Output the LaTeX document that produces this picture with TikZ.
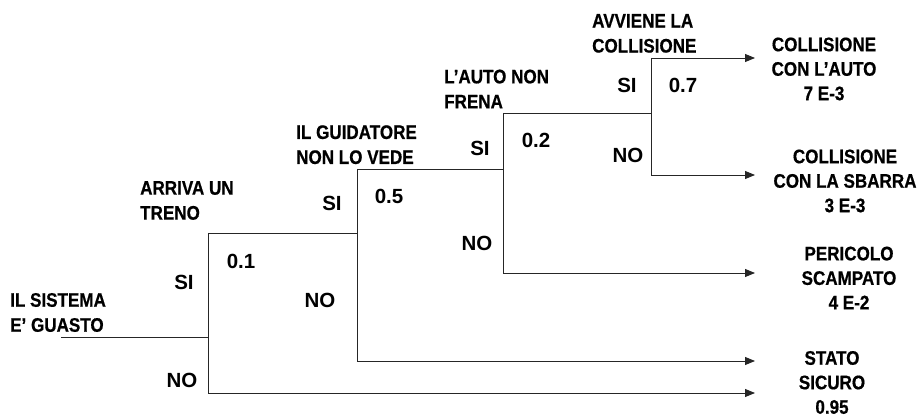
\documentclass[tikz,border=0pt]{standalone}
\usepackage{fontspec}
\setmainfont{Liberation Sans}
\newfontfamily\evfont[FakeStretch=0.87,FakeBold=0.6]{Liberation Sans}
\usetikzlibrary{arrows.meta}
\begin{document}
\begin{tikzpicture}[x=1pt,y=-1pt,
  branch/.style={line width=0.9pt,draw=black!85},
  arr/.style={branch,-{Triangle[length=10pt,width=8pt]}},
  evlabel/.style={anchor=west,inner sep=0pt,align=left,font=\evfont\bfseries\fontsize{19.6}{25}\selectfont},
  outlabel/.style={anchor=center,inner sep=0pt,align=center,font=\evfont\bfseries\fontsize{19.6}{24.5}\selectfont},
  yn/.style={anchor=center,inner sep=0pt,font=\bfseries\fontsize{20.5}{24}\selectfont}]
\useasboundingbox (0,0) rectangle (923,419);
% branch points
\coordinate (r) at (61,337);
\coordinate (b1) at (208,337);
\coordinate (b1t) at (208,233);
\coordinate (b1b) at (208,393);
\coordinate (b2) at (357,233);
\coordinate (b2t) at (357,169);
\coordinate (b2b) at (357,361);
\coordinate (b3) at (503,169);
\coordinate (b3t) at (503,113);
\coordinate (b3b) at (503,273);
\coordinate (b4) at (651,113);
\coordinate (b4t) at (651,58);
\coordinate (b4b) at (651,175);
\coordinate (e1) at (755,58);
\coordinate (e2) at (755,175);
\coordinate (e3) at (755,273);
\coordinate (e4) at (755,361);
\coordinate (e5) at (755,393);
% tree
\draw[branch] (r) -- (b1);
\draw[branch] (b1t) -- (b1b);
\draw[branch] (b1t) -- (b2);
\draw[branch] (b2t) -- (b2b);
\draw[branch] (b2t) -- (b3);
\draw[branch] (b3t) -- (b3b);
\draw[branch] (b3t) -- (b4);
\draw[branch] (b4t) -- (b4b);
\draw[arr] (b4t) -- (e1);
\draw[arr] (b4b) -- (e2);
\draw[arr] (b3b) -- (e3);
\draw[arr] (b2b) -- (e4);
\draw[arr] (b1b) -- (e5);
% event labels
\node[evlabel] (ev0) at (10,312.5) {IL SISTEMA\\E’ GUASTO};
\node[evlabel] (ev1) at (140,200.5) {ARRIVA UN\\TRENO};
\node[evlabel] (ev2) at (296,144.7) {IL GUIDATORE\\NON LO VEDE};
\node[evlabel] (ev3) at (444,89) {L’AUTO NON\\FRENA};
\node[evlabel] (ev4) at (592,33.4) {AVVIENE LA\\COLLISIONE};
% yes/no and probabilities
\node[yn] (si1) at (184,282) {SI};
\node[yn] (no1) at (182,380) {NO};
\node[yn] (p1) at (241,261) {0.1};
\node[yn] (si2) at (332,203) {SI};
\node[yn] (no2) at (320,300) {NO};
\node[yn] (p2) at (389,196) {0.5};
\node[yn] (si3) at (480,148) {SI};
\node[yn] (no3) at (477,243) {NO};
\node[yn] (p3) at (536,140) {0.2};
\node[yn] (si4) at (627,85) {SI};
\node[yn] (no4) at (628,155) {NO};
\node[yn] (p4) at (683,85) {0.7};
% outcomes
\node[outlabel] (o1) at (824,69) {COLLISIONE\\CON L’AUTO\\7 E-3};
\node[outlabel] (o2) at (845,181) {COLLISIONE\\CON LA SBARRA\\3 E-3};
\node[outlabel] (o3) at (849,278) {PERICOLO\\SCAMPATO\\4 E-2};
\node[outlabel] (o4) at (832,382.5) {STATO\\SICURO\\0.95};
\end{tikzpicture}
\end{document}
